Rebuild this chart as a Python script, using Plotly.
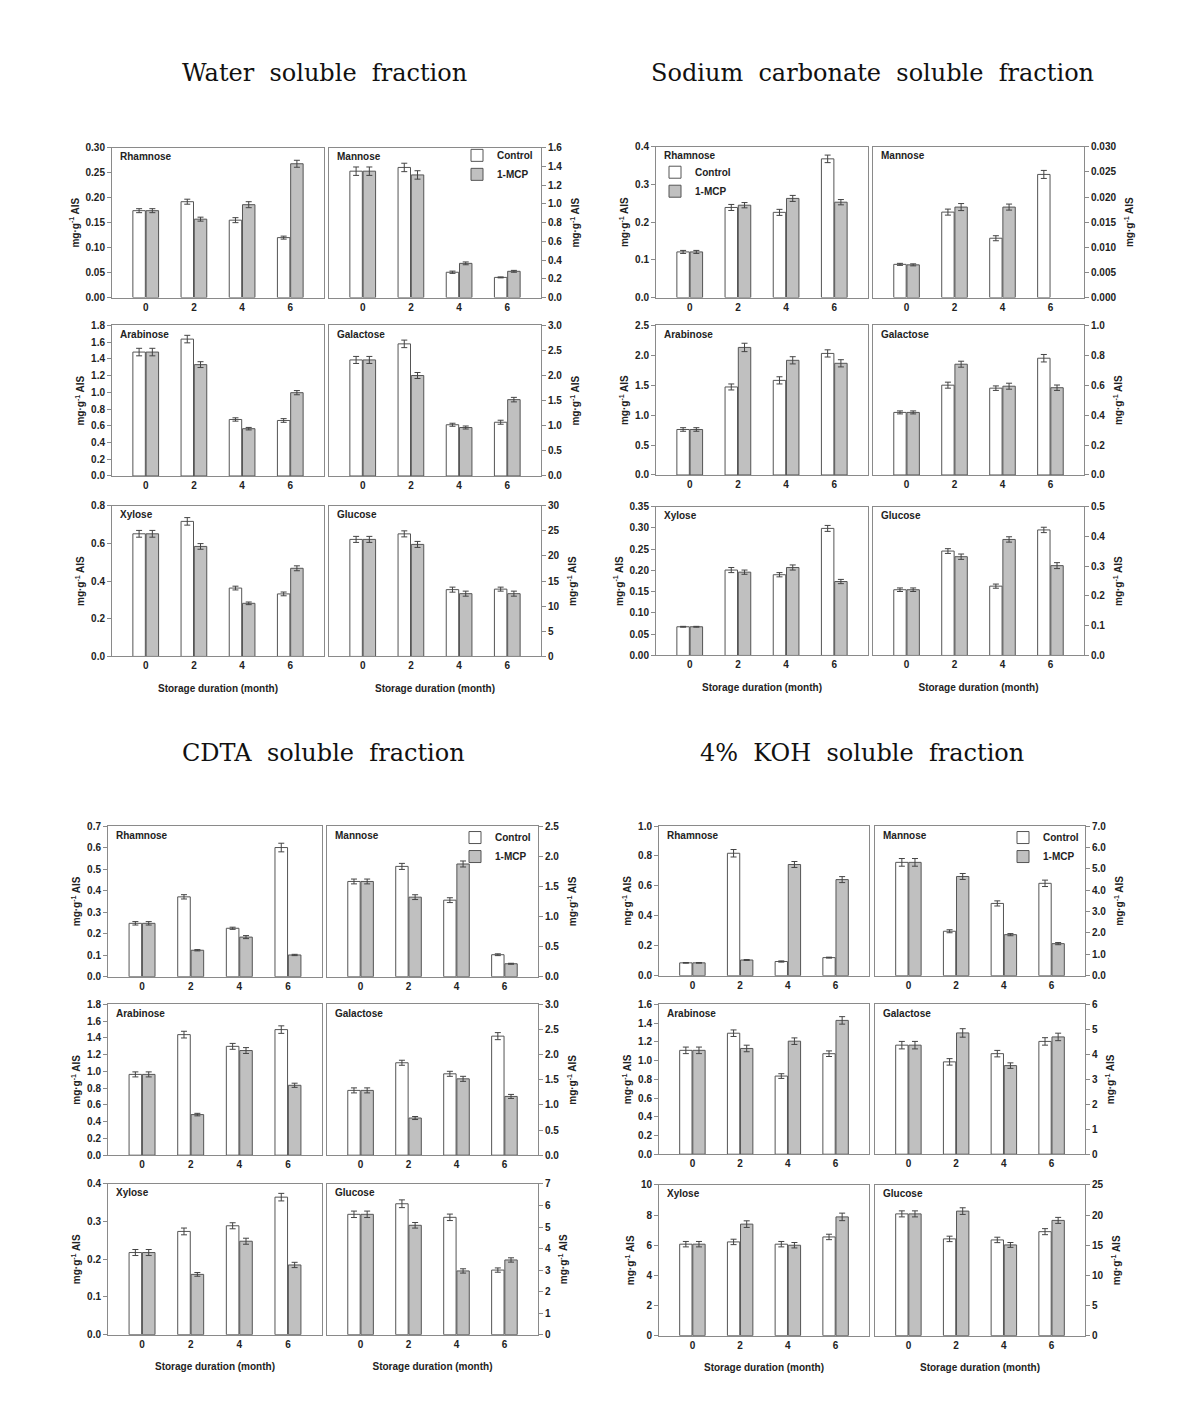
import plotly.graph_objects as go

W, H = 1183, 1419

months = [0, 2, 4, 6]
month_labels = ["0", "2", "4", "6"]
sugars = ["Rhamnose", "Mannose", "Arabinose", "Galactose", "Xylose", "Glucose"]
fraction_titles = ["Water soluble fraction", "Sodium carbonate soluble fraction",
                   "CDTA soluble fraction", "4% KOH soluble fraction"]

# ---------------- Water soluble fraction ----------------
water_rhamnose_control = [0.174, 0.192, 0.155, 0.120]
water_rhamnose_mcp = [0.174, 0.157, 0.186, 0.268]
water_rhamnose_control_err = [0.004, 0.005, 0.005, 0.003]
water_rhamnose_mcp_err = [0.004, 0.004, 0.006, 0.007]
water_mannose_control = [1.35, 1.39, 0.27, 0.215]
water_mannose_mcp = [1.35, 1.31, 0.365, 0.28]
water_mannose_control_err = [0.045, 0.045, 0.012, 0.005]
water_mannose_mcp_err = [0.045, 0.045, 0.015, 0.01]
water_arabinose_control = [1.48, 1.635, 0.675, 0.663]
water_arabinose_mcp = [1.48, 1.33, 0.565, 0.995]
water_arabinose_control_err = [0.045, 0.045, 0.02, 0.022]
water_arabinose_mcp_err = [0.045, 0.035, 0.015, 0.025]
water_galactose_control = [2.31, 2.63, 1.02, 1.07]
water_galactose_mcp = [2.31, 2.0, 0.965, 1.52]
water_galactose_control_err = [0.07, 0.075, 0.03, 0.04]
water_galactose_mcp_err = [0.07, 0.06, 0.03, 0.045]
water_xylose_control = [0.651, 0.717, 0.363, 0.332]
water_xylose_mcp = [0.651, 0.584, 0.282, 0.468]
water_xylose_control_err = [0.018, 0.02, 0.01, 0.01]
water_xylose_mcp_err = [0.018, 0.015, 0.007, 0.013]
water_glucose_control = [23.3, 24.4, 13.3, 13.4]
water_glucose_mcp = [23.3, 22.3, 12.5, 12.5]
water_glucose_control_err = [0.6, 0.6, 0.5, 0.4]
water_glucose_mcp_err = [0.6, 0.6, 0.5, 0.5]

# ---------------- Sodium carbonate soluble fraction ----------------
sodium_rhamnose_control = [0.121, 0.239, 0.226, 0.368]
sodium_rhamnose_mcp = [0.121, 0.245, 0.263, 0.253]
sodium_rhamnose_control_err = [0.004, 0.008, 0.008, 0.01]
sodium_rhamnose_mcp_err = [0.004, 0.007, 0.008, 0.007]
sodium_mannose_control = [0.0066, 0.0170, 0.0118, 0.0245]
sodium_mannose_mcp = [0.0065, 0.0180, 0.0180, None]
sodium_mannose_control_err = [0.0002, 0.0006, 0.0005, 0.0008]
sodium_mannose_mcp_err = [0.0002, 0.0007, 0.0006, None]
sodium_arabinose_control = [0.76, 1.47, 1.58, 2.03]
sodium_arabinose_mcp = [0.76, 2.13, 1.915, 1.865]
sodium_arabinose_control_err = [0.03, 0.05, 0.06, 0.06]
sodium_arabinose_mcp_err = [0.03, 0.07, 0.06, 0.06]
sodium_galactose_control = [0.418, 0.60, 0.58, 0.78]
sodium_galactose_mcp = [0.418, 0.74, 0.593, 0.583]
sodium_galactose_control_err = [0.01, 0.02, 0.015, 0.025]
sodium_galactose_mcp_err = [0.01, 0.02, 0.02, 0.018]
sodium_xylose_control = [0.0675, 0.201, 0.190, 0.299]
sodium_xylose_mcp = [0.0675, 0.196, 0.207, 0.174]
sodium_xylose_control_err = [0.001, 0.006, 0.005, 0.007]
sodium_xylose_mcp_err = [0.001, 0.005, 0.006, 0.005]
sodium_glucose_control = [0.221, 0.351, 0.233, 0.422]
sodium_glucose_mcp = [0.221, 0.332, 0.39, 0.302]
sodium_glucose_control_err = [0.006, 0.008, 0.007, 0.009]
sodium_glucose_mcp_err = [0.006, 0.009, 0.009, 0.01]

# ---------------- CDTA soluble fraction ----------------
cdta_rhamnose_control = [0.248, 0.371, 0.225, 0.600]
cdta_rhamnose_mcp = [0.248, 0.123, 0.184, 0.101]
cdta_rhamnose_control_err = [0.008, 0.01, 0.005, 0.02]
cdta_rhamnose_mcp_err = [0.008, 0.003, 0.007, 0.003]
cdta_mannose_control = [1.58, 1.83, 1.27, 0.365]
cdta_mannose_mcp = [1.58, 1.32, 1.87, 0.215]
cdta_mannose_control_err = [0.04, 0.05, 0.04, 0.015]
cdta_mannose_mcp_err = [0.04, 0.04, 0.05, 0.008]
cdta_arabinose_control = [0.965, 1.44, 1.30, 1.50]
cdta_arabinose_mcp = [0.965, 0.485, 1.25, 0.835]
cdta_arabinose_control_err = [0.03, 0.04, 0.035, 0.045]
cdta_arabinose_mcp_err = [0.03, 0.015, 0.035, 0.025]
cdta_galactose_control = [1.29, 1.84, 1.62, 2.37]
cdta_galactose_mcp = [1.29, 0.74, 1.52, 1.17]
cdta_galactose_control_err = [0.05, 0.05, 0.05, 0.07]
cdta_galactose_mcp_err = [0.05, 0.03, 0.05, 0.04]
cdta_xylose_control = [0.218, 0.274, 0.289, 0.365]
cdta_xylose_mcp = [0.218, 0.160, 0.248, 0.185]
cdta_xylose_control_err = [0.008, 0.009, 0.008, 0.01]
cdta_xylose_mcp_err = [0.008, 0.005, 0.008, 0.007]
cdta_glucose_control = [5.59, 6.08, 5.45, 3.0]
cdta_glucose_mcp = [5.59, 5.08, 2.96, 3.47]
cdta_glucose_control_err = [0.15, 0.18, 0.15, 0.1]
cdta_glucose_mcp_err = [0.15, 0.13, 0.1, 0.1]

# ---------------- 4% KOH soluble fraction ----------------
koh_rhamnose_control = [0.086, 0.818, 0.095, 0.121]
koh_rhamnose_mcp = [0.086, 0.105, 0.743, 0.642]
koh_rhamnose_control_err = [0.002, 0.025, 0.004, 0.003]
koh_rhamnose_mcp_err = [0.002, 0.003, 0.02, 0.02]
koh_mannose_control = [5.3, 2.08, 3.38, 4.32]
koh_mannose_mcp = [5.3, 4.64, 1.92, 1.5]
koh_mannose_control_err = [0.18, 0.07, 0.12, 0.15]
koh_mannose_mcp_err = [0.18, 0.14, 0.05, 0.05]
koh_arabinose_control = [1.11, 1.293, 0.835, 1.074]
koh_arabinose_mcp = [1.11, 1.13, 1.208, 1.43]
koh_arabinose_control_err = [0.035, 0.035, 0.025, 0.03]
koh_arabinose_mcp_err = [0.035, 0.035, 0.035, 0.04]
koh_galactose_control = [4.37, 3.7, 4.03, 4.52]
koh_galactose_mcp = [4.37, 4.86, 3.55, 4.70]
koh_galactose_control_err = [0.15, 0.13, 0.13, 0.15]
koh_galactose_mcp_err = [0.15, 0.17, 0.11, 0.15]
koh_xylose_control = [6.07, 6.22, 6.07, 6.55]
koh_xylose_mcp = [6.07, 7.4, 6.0, 7.88]
koh_xylose_control_err = [0.18, 0.18, 0.18, 0.18]
koh_xylose_mcp_err = [0.18, 0.22, 0.18, 0.25]
koh_glucose_control = [20.2, 16.05, 15.88, 17.25]
koh_glucose_mcp = [20.2, 20.66, 15.05, 19.12]
koh_glucose_control_err = [0.5, 0.45, 0.45, 0.5]
koh_glucose_mcp_err = [0.5, 0.55, 0.4, 0.5]

# Axis settings per panel: (max, dtick, format)
water_axes = [(0.30, 0.05, ".2f"), (1.6, 0.2, ".1f"), (1.8, 0.2, ".1f"),
              (3.0, 0.5, ".1f"), (0.8, 0.2, ".1f"), (30, 5, "d")]
sodium_axes = [(0.4, 0.1, ".1f"), (0.030, 0.005, ".3f"), (2.5, 0.5, ".1f"),
               (1.0, 0.2, ".1f"), (0.35, 0.05, ".2f"), (0.5, 0.1, ".1f")]
cdta_axes = [(0.7, 0.1, ".1f"), (2.5, 0.5, ".1f"), (1.8, 0.2, ".1f"),
             (3.0, 0.5, ".1f"), (0.4, 0.1, ".1f"), (7, 1, "d")]
koh_axes = [(1.0, 0.2, ".1f"), (7.0, 1.0, ".1f"), (1.6, 0.2, ".1f"),
            (6, 1, "d"), (10, 2, "d"), (25, 5, "d")]

fractions = [
    ("water", water_axes, [
        (water_rhamnose_control, water_rhamnose_mcp, water_rhamnose_control_err, water_rhamnose_mcp_err),
        (water_mannose_control, water_mannose_mcp, water_mannose_control_err, water_mannose_mcp_err),
        (water_arabinose_control, water_arabinose_mcp, water_arabinose_control_err, water_arabinose_mcp_err),
        (water_galactose_control, water_galactose_mcp, water_galactose_control_err, water_galactose_mcp_err),
        (water_xylose_control, water_xylose_mcp, water_xylose_control_err, water_xylose_mcp_err),
        (water_glucose_control, water_glucose_mcp, water_glucose_control_err, water_glucose_mcp_err)]),
    ("sodium", sodium_axes, [
        (sodium_rhamnose_control, sodium_rhamnose_mcp, sodium_rhamnose_control_err, sodium_rhamnose_mcp_err),
        (sodium_mannose_control, sodium_mannose_mcp, sodium_mannose_control_err, sodium_mannose_mcp_err),
        (sodium_arabinose_control, sodium_arabinose_mcp, sodium_arabinose_control_err, sodium_arabinose_mcp_err),
        (sodium_galactose_control, sodium_galactose_mcp, sodium_galactose_control_err, sodium_galactose_mcp_err),
        (sodium_xylose_control, sodium_xylose_mcp, sodium_xylose_control_err, sodium_xylose_mcp_err),
        (sodium_glucose_control, sodium_glucose_mcp, sodium_glucose_control_err, sodium_glucose_mcp_err)]),
    ("cdta", cdta_axes, [
        (cdta_rhamnose_control, cdta_rhamnose_mcp, cdta_rhamnose_control_err, cdta_rhamnose_mcp_err),
        (cdta_mannose_control, cdta_mannose_mcp, cdta_mannose_control_err, cdta_mannose_mcp_err),
        (cdta_arabinose_control, cdta_arabinose_mcp, cdta_arabinose_control_err, cdta_arabinose_mcp_err),
        (cdta_galactose_control, cdta_galactose_mcp, cdta_galactose_control_err, cdta_galactose_mcp_err),
        (cdta_xylose_control, cdta_xylose_mcp, cdta_xylose_control_err, cdta_xylose_mcp_err),
        (cdta_glucose_control, cdta_glucose_mcp, cdta_glucose_control_err, cdta_glucose_mcp_err)]),
    ("koh", koh_axes, [
        (koh_rhamnose_control, koh_rhamnose_mcp, koh_rhamnose_control_err, koh_rhamnose_mcp_err),
        (koh_mannose_control, koh_mannose_mcp, koh_mannose_control_err, koh_mannose_mcp_err),
        (koh_arabinose_control, koh_arabinose_mcp, koh_arabinose_control_err, koh_arabinose_mcp_err),
        (koh_galactose_control, koh_galactose_mcp, koh_galactose_control_err, koh_galactose_mcp_err),
        (koh_xylose_control, koh_xylose_mcp, koh_xylose_control_err, koh_xylose_mcp_err),
        (koh_glucose_control, koh_glucose_mcp, koh_glucose_control_err, koh_glucose_mcp_err)]),
]

# ---------------- layout geometry (pixels) ----------------
group_cols = [  # (left panel x0,x1), (right panel x0,x1)
    ((112, 324), (329, 541)),
    ((656, 868), (873, 1084)),
    ((108, 322), (327, 538)),
    ((659, 869), (875, 1085)),
]
group_rows = [
    [(143, 294), (322, 474), (504, 656)],
    [(142, 294), (322, 473), (505, 655)],
    [(827, 979), (1007, 1159), (1188, 1340)],
    [(827, 978), (1007, 1158), (1189, 1341)],
]
title_pos = [(324, 68), (872, 68), (323, 753), (862, 753)]
legend_panel = [1, 0, 1, 1]          # which panel in the group holds the legend
legend_pos = [(457, 136), (655, 153), (455, 824), (1003, 824)]

LINE = "#8a8a8a"
EDGE = "#555555"
GRAY = "#c0c0c0"
FONT = "Liberation Sans, Arial, sans-serif"
ytitle = "mg·g<sup>-1</sup> AIS"
xtitle = "Storage duration (month)"

fig = go.Figure()
layout = {}
annotations = []
ax = 0
for g, (name, axes_cfg, panels) in enumerate(fractions):
    legend_name = "legend" if g == 0 else f"legend{g + 1}"
    for p in range(6):
        ax += 1
        row, col = divmod(p, 2)
        (x0, x1) = group_cols[g][col]
        (y0, y1) = group_rows[g][row]
        ctrl, mcp, ctrl_err, mcp_err = panels[p]
        xa = "x" if ax == 1 else f"x{ax}"
        ya = "y" if ax == 1 else f"y{ax}"
        show = (p == legend_panel[g])
        fig.add_trace(go.Bar(
            x=months, y=ctrl, name="Control", xaxis=xa, yaxis=ya,
            marker=dict(color="white", line=dict(color=EDGE, width=1)),
            error_y=dict(type="data", array=ctrl_err, color="#444", thickness=1, width=3),
            textposition="none", hoverinfo="y",
            showlegend=show, legend=legend_name, offsetgroup="c"))
        fig.add_trace(go.Bar(
            x=months, y=mcp, name="1-MCP", xaxis=xa, yaxis=ya,
            marker=dict(color=GRAY, line=dict(color=EDGE, width=1)),
            error_y=dict(type="data", array=mcp_err, color="#444", thickness=1, width=3),
            textposition="none", hoverinfo="y",
            showlegend=show, legend=legend_name, offsetgroup="m"))
        ymax, dtick, fmt = axes_cfg[p]
        key = "" if ax == 1 else str(ax)
        xaxis = dict(
            domain=[x0 / W, x1 / W], anchor=ya, range=[-1.4, 7.4],
            tickvals=months, ticktext=month_labels, showgrid=False, zeroline=False,
            showline=True, linecolor=LINE, linewidth=1, mirror=True, ticks="",
            tickfont=dict(family=FONT, size=10, color="#222", weight="bold"),
            fixedrange=True)
        if row == 2:
            xaxis["title"] = dict(text=xtitle,
                                  font=dict(family=FONT, size=10, color="#222", weight="bold"),
                                  standoff=14)
        layout[f"xaxis{key}"] = xaxis
        layout[f"yaxis{key}"] = dict(
            domain=[1 - y1 / H, 1 - y0 / H], anchor=xa, range=[0, ymax],
            dtick=dtick, tick0=0, tickformat=fmt, side="left" if col == 0 else "right",
            showgrid=False, zeroline=False, showline=True, linecolor=LINE, linewidth=1,
            mirror=True, ticks="outside", ticklen=4, tickcolor=LINE,
            tickfont=dict(family=FONT, size=10, color="#222", weight="bold"),
            title=dict(text=ytitle, font=dict(family=FONT, size=10, color="#222", weight="bold"),
                       standoff=4 if col == 0 else 10),
            fixedrange=True)
        annotations.append(dict(
            text=sugars[p], xref=f"{xa} domain", yref=f"{ya} domain", x=0.03, y=0.99,
            xanchor="left", yanchor="top", showarrow=False,
            font=dict(family=FONT, size=10, color="#222", weight="bold")))
    lx, ly = legend_pos[g]
    layout[legend_name] = dict(
        x=lx / W, y=1 - ly / H, xanchor="left", yanchor="top",
        bgcolor="rgba(0,0,0,0)", borderwidth=0, tracegroupgap=0,
        font=dict(family=FONT, size=10, color="#222", weight="bold"),
        itemwidth=30)
    tx, ty = title_pos[g]
    annotations.append(dict(
        text=fraction_titles[g].replace(" ", "\u00a0\u00a0"), xref="paper", yref="paper",
        x=tx / W, y=1 - ty / H, xanchor="center", yanchor="middle", showarrow=False,
        font=dict(family="DejaVu Serif, Liberation Serif, serif", size=24, color="#111")))

fig.update_layout(
    width=W, height=H, margin=dict(l=0, r=0, t=0, b=0),
    paper_bgcolor="white", plot_bgcolor="white",
    barmode="group", bargap=0.45, bargroupgap=0.06,
    annotations=annotations, **layout)

fig.write_html("out.html", config={"displayModeBar": False},
               post_script="document.body.style.margin='0';")
